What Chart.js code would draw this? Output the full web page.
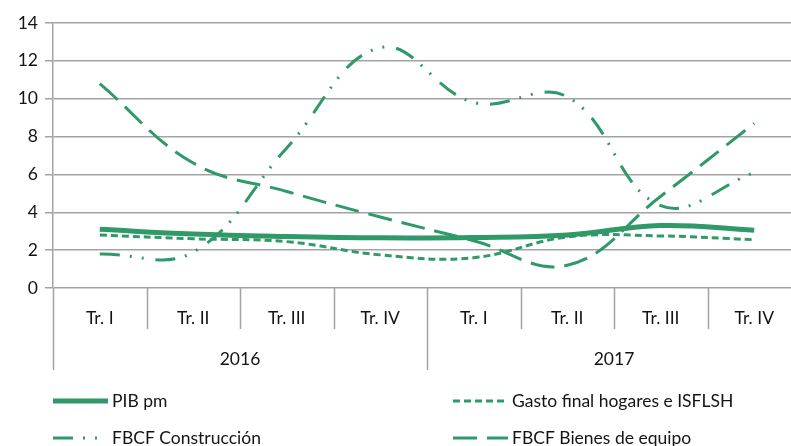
<!DOCTYPE html>
<html>
<head>
<meta charset="utf-8">
<script src="https://cdn.jsdelivr.net/npm/chart.js@4/dist/chart.umd.min.js"></script>
<style>
  html, body { margin: 0; padding: 0; background: #fff; overflow: hidden; }
  #wrap { width: 801px; height: 446px; }
</style>
</head>
<body>
<div id="wrap"><canvas id="lineChart" width="801" height="446"></canvas></div>
<script>
    const quarters = ['Tr. I', 'Tr. II', 'Tr. III', 'Tr. IV', 'Tr. I', 'Tr. II', 'Tr. III', 'Tr. IV'];
    const years = ['2016', '2017'];
    const pibPm = [3.1, 2.85, 2.72, 2.65, 2.67, 2.8, 3.3, 3.05];
    const gastoHogares = [2.8, 2.6, 2.45, 1.75, 1.6, 2.7, 2.75, 2.55];
    const fbcfConstruccion = [1.8, 1.9, 7.4, 12.7, 9.8, 10.1, 4.35, 6.1];
    const fbcfBienes = [10.8, 6.6, 5.1, 3.75, 2.5, 1.2, 4.85, 8.7];

    const green = '#2f9a68';
    const gridGray = '#a3a3a3';
    const textColor = '#141414';
    const fontFamily = 'Lato, "Open Sans", sans-serif';
    const fontSize = 17.5;

    // x axis (quarters + years) and legend are drawn here, positions come from the scale
    const axisAndLegend = {
        id: 'axisAndLegend',
        afterDraw(chart) {
            const ctx = chart.ctx;
            const x = chart.scales.x;
            const bottom = chart.chartArea.bottom;
            const half = (x.getPixelForValue(1) - x.getPixelForValue(0)) / 2;
            ctx.save();
            ctx.strokeStyle = gridGray;
            ctx.lineWidth = 1.5;
            for (let i = 0; i <= quarters.length; i++) {
                const px = Math.round(x.getPixelForValue(i) - half) + 0.5;
                ctx.beginPath();
                ctx.moveTo(px, bottom);
                ctx.lineTo(px, bottom + (i % 4 === 0 ? 82 : 41));
                ctx.stroke();
            }
            ctx.fillStyle = textColor;
            ctx.font = fontSize + 'px ' + fontFamily;
            ctx.textAlign = 'center';
            ctx.textBaseline = 'middle';
            quarters.forEach((q, i) => ctx.fillText(q, x.getPixelForValue(i), bottom + 30));
            years.forEach((y, j) => {
                const mid = (x.getPixelForValue(j * 4 + 1) + x.getPixelForValue(j * 4 + 2)) / 2;
                ctx.fillText(y, mid, bottom + 71);
            });

            // legend, two columns
            const spots = [[53, 401], [453, 401], [53, 438], [453, 438]];
            chart.data.datasets.forEach((ds, k) => {
                const [lx, ly] = spots[k];
                ctx.strokeStyle = ds.borderColor;
                ctx.lineWidth = ds.borderWidth;
                ctx.setLineDash(ds.borderDash || []);
                ctx.lineCap = 'butt';
                ctx.beginPath();
                ctx.moveTo(lx, ly);
                ctx.lineTo(lx + 55, ly);
                ctx.stroke();
                ctx.setLineDash([]);
                ctx.textAlign = 'left';
                ctx.fillText(ds.label, lx + 59, ly);
            });
            ctx.restore();
        }
    };

    const ctx = document.getElementById('lineChart').getContext('2d');
    const lineChart = new Chart(ctx, {
        type: 'line',
    data: {
        labels: quarters,
    datasets: [
        {
            label: 'PIB pm',
            data: pibPm,
            borderColor: green,
            borderWidth: 5,
            borderDash: []
        },
        {
            label: 'Gasto final hogares e ISFLSH',
            data: gastoHogares,
            borderColor: green,
            borderWidth: 3,
            borderDash: [7, 4]
        },
        {
            label: 'FBCF Construcción',
            data: fbcfConstruccion,
            borderColor: green,
            borderWidth: 3,
            borderDash: [20, 10, 2, 10, 2, 12]
        },
        {
            label: 'FBCF Bienes de equipo',
            data: fbcfBienes,
            borderColor: green,
            borderWidth: 3,
            borderDash: [24, 10]
        }
    ]
    },
    options: {
        responsive: false,
    animation: false,
    layout: {
        padding: { top: 23, right: 0, bottom: 158, left: 0 }
    },
    elements: {
        point: { radius: 0, hoverRadius: 0 },
        line: { tension: 0.4, fill: false }
    },
    plugins: {
        legend: { display: false }, // own legend below
        tooltip: { enabled: false }
    },
    scales: {
        x: {
            display: false,
            offset: true
        },
        y: {
            min: 0,
            max: 14,
            afterFit(scale) { scale.width = 53; },
            ticks: {
                stepSize: 2,
                padding: 7,
                color: textColor,
                font: { family: fontFamily, size: fontSize }
            },
            grid: {
                color: gridGray,
                lineWidth: 1.5,
                tickLength: 8
            },
            border: { display: true, color: gridGray, width: 1.5 }
        }
    }
    },
    plugins: [axisAndLegend]
  });
</script>
</body>
</html>
